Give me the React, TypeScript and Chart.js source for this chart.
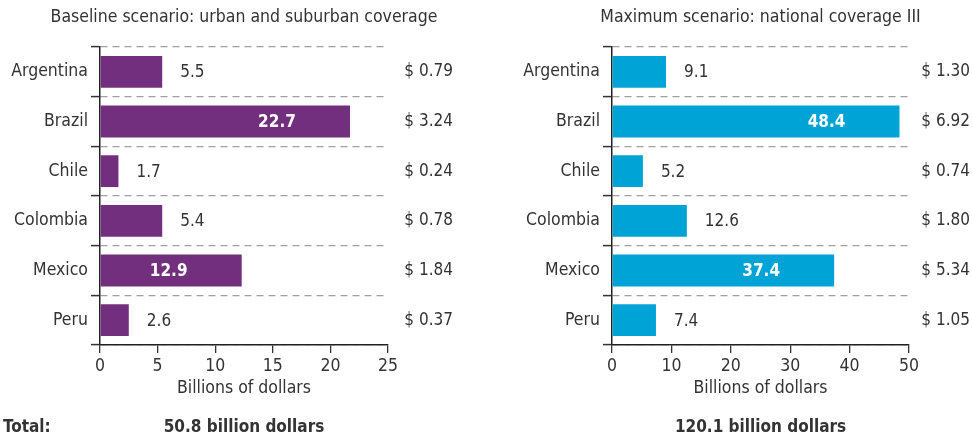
import React, { useEffect, useRef } from 'react';
import { Chart, registerables } from 'chart.js';

Chart.register(...registerables);

const categories = ['Argentina', 'Brazil', 'Chile', 'Colombia', 'Mexico', 'Peru'];
const baselineBars = [5.4, 21.7, 1.6, 5.4, 12.3, 2.5];
const baselineLabels = ['5.5', '22.7', '1.7', '5.4', '12.9', '2.6'];
const baselineCosts = ['$ 0.79', '$ 3.24', '$ 0.24', '$ 0.78', '$ 1.84', '$ 0.37'];
const maximumBars = [9.1, 48.4, 5.2, 12.6, 37.4, 7.4];
const maximumLabels = ['9.1', '48.4', '5.2', '12.6', '37.4', '7.4'];
const maximumCosts = ['$ 1.30', '$ 6.92', '$ 0.74', '$ 1.80', '$ 5.34', '$ 1.05'];
const baselineAxisMax = 25;
const baselineAxisStep = 5;
const maximumAxisMax = 50;
const maximumAxisStep = 10;
const baselineTitle = 'Baseline scenario: urban and suburban coverage';
const maximumTitle = 'Maximum scenario: national coverage III';
const axisTitle = 'Billions of dollars';
const totalLabel = 'Total:';
const baselineTotal = '50.8 billion dollars';
const maximumTotal = '120.1 billion dollars';

const FONT = '"DejaVu Sans Condensed", "DejaVu Sans", sans-serif';
const TEXT = '#333333';

type PanelProps = {
  left: number;
  width: number;
  yAxisWidth: number;
  padRight: number;
  values: number[];
  labels: string[];
  costs: string[];
  max: number;
  step: number;
  color: string;
  title: string;
  total: string;
  showTotalLabel: boolean;
  costRight: number;
};

function Panel(p: PanelProps) {
  const ref = useRef<HTMLCanvasElement | null>(null);
  useEffect(() => {
    const canvas = ref.current;
    if (!canvas) return;
    const overlay = {
      id: 'overlay',
      afterDatasetsDraw(chart: any) {
        const ctx = chart.ctx;
        const meta = chart.getDatasetMeta(0);
        ctx.save();
        ctx.textBaseline = 'middle';
        meta.data.forEach((bar: any, i: number) => {
          const len = bar.x - bar.base;
          if (len > 100) {
            ctx.font = `bold 17px ${FONT}`;
            ctx.fillStyle = '#ffffff';
            ctx.textAlign = 'center';
            ctx.fillText(p.labels[i], bar.x - 73, bar.y + 1);
          } else {
            ctx.font = `17px ${FONT}`;
            ctx.fillStyle = TEXT;
            ctx.textAlign = 'left';
            ctx.fillText(p.labels[i], bar.x + 18, bar.y + 1);
          }
          ctx.font = `17px ${FONT}`;
          ctx.fillStyle = TEXT;
          ctx.textAlign = 'right';
          ctx.fillText(p.costs[i], p.costRight, bar.y);
        });
        ctx.restore();
      },
      afterDraw(chart: any) {
        const ctx = chart.ctx;
        const ca = chart.chartArea;
        const cx = (ca.left + ca.right) / 2;
        ctx.save();
        ctx.textBaseline = 'middle';
        ctx.textAlign = 'center';
        ctx.fillStyle = TEXT;
        ctx.font = `17.5px ${FONT}`;
        ctx.fillText(p.title, cx, 17);
        ctx.fillText(axisTitle, cx, 388);
        ctx.font = `bold 17px ${FONT}`;
        ctx.fillText(p.total, cx, 428);
        if (p.showTotalLabel) {
          ctx.textAlign = 'left';
          ctx.fillText(totalLabel, 3, 428);
        }
        ctx.restore();
      },
    };
    const chart = new Chart(canvas, {
      type: 'bar',
      data: {
        labels: categories,
        datasets: [
          {
            data: p.values,
            backgroundColor: p.color,
            borderWidth: 0,
            barPercentage: 0.64,
            categoryPercentage: 1,
          },
        ],
      },
      options: {
        indexAxis: 'y',
        animation: false,
        responsive: false,
        maintainAspectRatio: false,
        layout: { padding: { top: 47, right: p.padRight, bottom: 40, left: 0 } },
        plugins: { legend: { display: false }, tooltip: { enabled: false }, title: { display: false } },
        scales: {
          x: {
            min: 0,
            max: p.max,
            afterFit: (s: any) => {
              s.height = 55;
            },
            ticks: { stepSize: p.step, color: TEXT, font: { family: FONT, size: 17.5 }, padding: 3 },
            grid: { drawOnChartArea: false, drawTicks: true, tickLength: 8, color: '#333', tickColor: '#333', lineWidth: 1.3 },
            border: { display: true, color: '#222', width: 1.5 },
          },
          y: {
            afterFit: (s: any) => {
              s.width = p.yAxisWidth;
            },
            ticks: { color: TEXT, font: { family: FONT, size: 17.5 }, padding: 3 },
            grid: {
              offset: true,
              drawOnChartArea: true,
              drawTicks: true,
              tickLength: 9,
              color: '#a0a0a0',
              lineWidth: 1.2,
              tickColor: '#333',
              tickWidth: 1.5,
              tickBorderDash: [],
            },
            border: { display: true, color: '#222', width: 1.5, dash: [7, 5] },
          },
        },
      },
      plugins: [overlay],
    });
    return () => chart.destroy();
  }, []);
  return (
    <canvas
      ref={ref}
      width={p.width}
      height={440}
      style={{ position: 'absolute', left: p.left, top: 0, width: p.width, height: 440 }}
    />
  );
}

export default function App() {
  return (
    <div style={{ position: 'absolute', left: 0, top: 0, width: 972, height: 440, background: '#fff', overflow: 'hidden' }}>
      <Panel
        left={0}
        width={490}
        yAxisWidth={100}
        padRight={102}
        values={baselineBars}
        labels={baselineLabels}
        costs={baselineCosts}
        max={baselineAxisMax}
        step={baselineAxisStep}
        color="#722F7D"
        title={baselineTitle}
        total={baselineTotal}
        showTotalLabel={true}
        costRight={453}
      />
      <Panel
        left={490}
        width={482}
        yAxisWidth={122}
        padRight={63}
        values={maximumBars}
        labels={maximumLabels}
        costs={maximumCosts}
        max={maximumAxisMax}
        step={maximumAxisStep}
        color="#00A3D6"
        title={maximumTitle}
        total={maximumTotal}
        showTotalLabel={false}
        costRight={480}
      />
    </div>
  );
}
